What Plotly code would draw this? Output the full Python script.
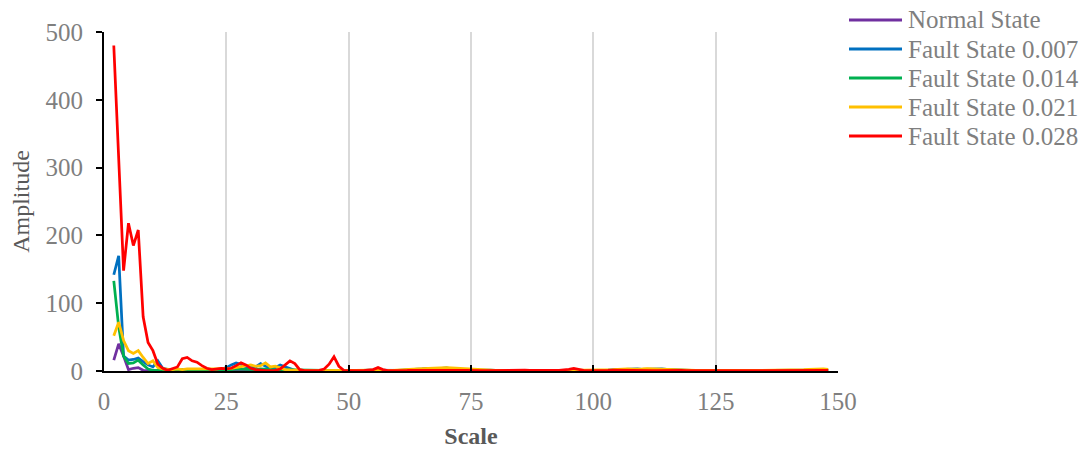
import plotly.graph_objects as go

# Scale axis (2 .. 148)
scales = list(range(2, 149))

normal_state = [
    16, 40, 22, 2, 4, 5, 1, 0.5, 0.4, 0.3,
    0.3, 0.2, 0.3, 0.4, 0.5, 0.4, 0.3, 0.3, 0.2, 0.3,
    0.4, 0.5, 0.6, 0.5, 0.4, 0.6, 0.8, 0.7, 0.5, 0.4,
    0.5, 0.6, 0.7, 0.6, 0.5, 0.4, 0.3, 0.3, 0.2, 0.3,
    0.3, 0.4, 0.5, 0.4, 0.3, 0.3, 0.2, 0.3, 0.4, 0.3,
    0.3, 0.4, 0.5, 0.6, 0.5, 0.4, 0.3, 0.4, 0.5, 0.6,
    0.7, 0.8, 0.7, 0.6, 0.5, 0.6, 0.7, 0.6, 0.5, 0.4,
    0.4, 0.5, 0.6, 0.5, 0.4, 0.3, 0.4, 0.5, 0.6, 0.5,
    0.4, 0.3, 0.3, 0.4, 0.5, 0.6, 0.5, 0.4, 0.3, 0.4,
    0.5, 0.4, 0.3, 0.4, 0.5, 0.6, 0.7, 0.6, 0.5, 0.4,
    0.4, 0.5, 0.6, 0.7, 0.6, 0.5, 0.4, 0.3, 0.4, 0.5,
    0.4, 0.3, 0.3, 0.4, 0.5, 0.4, 0.3, 0.4, 0.5, 0.6,
    0.5, 0.4, 0.3, 0.3, 0.4, 0.5, 0.6, 0.5, 0.4, 0.3,
    0.3, 0.4, 0.5, 0.6, 0.7, 0.6, 0.5,
]

fault_007 = [
    142, 170, 22, 16, 17, 19, 14, 9, 6, 15,
    4, 2, 1, 1, 2, 1, 2, 1, 1, 1,
    2, 2, 3, 5, 9, 12, 10, 6, 5, 6,
    11, 7, 5, 5, 9, 6, 3, 1, 1, 0.5,
    0.5, 0.5, 0.7, 1, 1, 0.8, 0.6, 0.5, 0.5, 0.6,
    0.8, 1, 1.2, 1, 1.5, 1.2, 0.9, 0.8, 1, 1.3,
    1.5, 2, 2.5, 3, 4, 3.5, 3, 4, 4.5, 3,
    2.5, 2, 1.5, 1.2, 1, 1.2, 1.5, 1.3, 1, 0.9,
    1, 1.2, 1, 0.8, 0.7, 0.9, 1.1, 1, 0.8, 0.7,
    0.8, 1, 1.2, 1.4, 1.6, 1.2, 1, 0.9, 0.8, 0.9,
    1.1, 1.4, 1.8, 2.2, 2.5, 3, 3.5, 3, 2.5, 2.8,
    3.2, 3.6, 3, 2.5, 2, 1.5, 1.2, 1, 0.9, 0.8,
    0.7, 0.8, 1, 0.9, 0.7, 0.6, 0.7, 0.9, 1, 0.8,
    0.7, 0.6, 0.7, 0.8, 1, 1.1, 0.9, 0.8, 0.7, 0.8,
    1, 1.2, 1.4, 1.6, 1.8, 1.5, 1.2,
]

fault_014 = [
    133, 65, 22, 11, 12, 16, 9, 3, 1, 0.8,
    0.6, 0.5, 0.8, 1, 1.5, 1.2, 1, 0.8, 0.7, 0.8,
    1, 1.3, 1.5, 1.2, 2, 3, 2.5, 2, 1.5, 2,
    3, 2.5, 2, 1.8, 2.2, 2, 1.5, 1, 0.8, 0.6,
    0.5, 0.5, 0.6, 0.8, 1, 0.9, 0.7, 0.6, 0.5, 0.6,
    0.7, 0.8, 0.9, 1, 1.1, 0.9, 0.8, 0.7, 0.8, 1,
    1.2, 1.4, 1.5, 1.3, 1.2, 1.4, 1.6, 1.5, 1.3, 1.1,
    1, 0.9, 0.8, 0.9, 1, 0.9, 0.8, 0.7, 0.8, 0.9,
    1, 0.9, 0.8, 0.7, 0.6, 0.7, 0.8, 0.9, 0.8, 0.7,
    0.6, 0.7, 0.8, 1, 1.2, 1, 0.8, 0.7, 0.6, 0.7,
    0.8, 1, 1.2, 1.4, 1.5, 1.3, 1.2, 1.4, 1.5, 1.3,
    1.2, 1.1, 1, 0.9, 0.8, 0.7, 0.8, 0.9, 0.8, 0.7,
    0.6, 0.7, 0.8, 0.7, 0.6, 0.6, 0.7, 0.8, 0.9, 0.8,
    0.7, 0.6, 0.7, 0.8, 0.9, 0.8, 0.7, 0.6, 0.7, 0.8,
    0.9, 1, 1.1, 1.2, 1.1, 1, 0.9,
]

fault_021 = [
    52, 72, 45, 30, 26, 30, 20, 11, 15, 5,
    3, 2, 2, 3, 2, 3, 3, 2, 2, 3,
    2, 3, 4, 3, 4, 5, 6, 8, 9, 7,
    8, 12, 6, 7, 4, 2, 1.5, 1, 0.8, 0.7,
    0.6, 0.5, 0.7, 1, 1.2, 1, 0.8, 0.6, 0.5, 0.6,
    0.8, 1, 1.2, 1.4, 1.6, 1.3, 1, 0.9, 1.1, 1.5,
    2, 2.5, 3, 3.5, 4, 4.5, 5, 5.5, 5, 4.5,
    4, 4.5, 4, 3, 2, 1.5, 1.2, 1, 0.9, 1,
    1.2, 1, 0.8, 0.7, 0.8, 1, 1.2, 1.1, 0.9, 0.8,
    0.7, 0.8, 1, 1.2, 1.3, 1.1, 0.9, 0.8, 0.7, 0.9,
    1.2, 1.5, 2, 2.5, 3, 3.2, 2.8, 2.5, 3, 3.5,
    3.2, 2.8, 2.5, 2, 1.5, 1.2, 1, 0.9, 0.8, 0.9,
    1, 0.9, 0.8, 0.7, 0.8, 0.9, 1, 0.9, 0.8, 0.7,
    0.8, 0.9, 1, 1.1, 1.2, 1, 0.9, 0.8, 1, 1.3,
    1.6, 2, 2.5, 3, 3.2, 3, 2.5,
]

fault_028 = [
    480, 315, 148, 218, 185, 208, 80, 42, 30, 10,
    4, 1, 3, 6, 18, 20, 15, 13, 8, 4,
    2, 3, 4, 3, 4, 8, 12, 9, 4, 2,
    1, 0.5, 0.5, 1, 3, 9, 15, 11, 2, 0.5,
    0.5, 0.5, 1, 3, 10, 21, 7, 1, 0.5, 0.5,
    0.5, 0.6, 0.8, 2, 5, 2, 0.7, 0.5, 0.5, 0.6,
    0.8, 1, 0.9, 0.7, 0.6, 0.8, 1, 1.2, 0.9, 0.7,
    0.6, 0.8, 1, 1.2, 0.9, 0.7, 0.6, 0.8, 0.9, 0.7,
    0.6, 0.5, 0.7, 1.5, 1.2, 0.8, 0.6, 0.5, 0.6, 0.8,
    0.9, 1, 1.5, 2.5, 4, 2, 0.8, 0.6, 0.5, 0.6,
    0.7, 0.9, 1.2, 1, 0.8, 0.7, 0.9, 1.1, 1, 0.8,
    0.7, 0.6, 0.8, 1, 1.3, 1.1, 0.9, 0.7, 0.6, 0.7,
    0.8, 0.9, 0.8, 0.7, 0.6, 0.6, 0.7, 0.8, 0.7, 0.6,
    0.5, 0.6, 0.7, 0.9, 1.1, 0.9, 0.7, 0.6, 0.5, 0.6,
    0.7, 0.9, 1.2, 1.5, 1.3, 1, 0.8,
]

series_names = ["Normal State", "Fault State 0.007", "Fault State 0.014",
                "Fault State 0.021", "Fault State 0.028"]
series_values = [normal_state, fault_007, fault_014, fault_021, fault_028]
series_colors = ["#7030A0", "#0070C0", "#00B050", "#FFC000", "#FF0000"]

x_ticks = [0, 25, 50, 75, 100, 125, 150]
y_ticks = [0, 100, 200, 300, 400, 500]

FONT = "Liberation Serif, Times New Roman, serif"
LABEL_GRAY = "#7F7F7F"
TITLE_GRAY = "#595959"
FS = 25

W, H = 1082, 453
M_L, M_R, M_T, M_B = 104, 244, 32, 82
plot_w = W - M_L - M_R
plot_h = H - M_T - M_B

fig = go.Figure()
for name, vals, color in zip(series_names, series_values, series_colors):
    fig.add_trace(go.Scatter(
        x=scales, y=vals, mode="lines", name=name,
        line=dict(color=color, width=2.75),
        showlegend=False,
    ))

# Compact legend on the right: a short line sample followed by the label.
def px_to_paper_x(px):
    return (px - M_L) / plot_w

def px_to_paper_y(py):
    return (H - M_B - py) / plot_h

leg_x0, leg_x1, leg_text_x = 849, 902, 906
leg_top, leg_step = 20, 29
for i, (name, color) in enumerate(zip(series_names, series_colors)):
    yy = px_to_paper_y(leg_top + i * leg_step)
    fig.add_shape(type="line", xref="paper", yref="paper",
                  x0=px_to_paper_x(leg_x0), x1=px_to_paper_x(leg_x1),
                  y0=yy, y1=yy, line=dict(color=color, width=3))
    fig.add_annotation(xref="paper", yref="paper",
                       x=px_to_paper_x(leg_text_x), y=yy,
                       xanchor="left", yanchor="middle", showarrow=False,
                       text=name,
                       font=dict(family=FONT, size=FS, color=LABEL_GRAY))

fig.update_layout(
    width=W, height=H,
    margin=dict(l=M_L, r=M_R, t=M_T, b=M_B, autoexpand=False),
    plot_bgcolor="white", paper_bgcolor="white",
    font=dict(family=FONT, size=FS, color=LABEL_GRAY),
    showlegend=False,
)

fig.update_xaxes(
    range=[0, 150], tickvals=x_ticks,
    showgrid=True, gridcolor="#D9D9D9", gridwidth=2,
    showline=True, linecolor="black", linewidth=2,
    ticks="inside", ticklen=6, tickcolor="black", tickwidth=2,
    ticklabelstandoff=7,
    tickfont=dict(family=FONT, size=FS, color=LABEL_GRAY),
    zeroline=False,
    title=dict(text="<b>Scale</b>", font=dict(family=FONT, size=24, color=TITLE_GRAY),
               standoff=13),
)

fig.update_yaxes(
    range=[0, 500], tickvals=y_ticks,
    showgrid=False,
    showline=True, linecolor="black", linewidth=2,
    ticks="outside", ticklen=6, tickcolor="black", tickwidth=2,
    ticklabelstandoff=8,
    tickfont=dict(family=FONT, size=FS, color=LABEL_GRAY),
    zeroline=False,
    title=dict(text="Amplitude", font=dict(family=FONT, size=24, color=TITLE_GRAY),
               standoff=9),
)

fig.write_html("out.html")
